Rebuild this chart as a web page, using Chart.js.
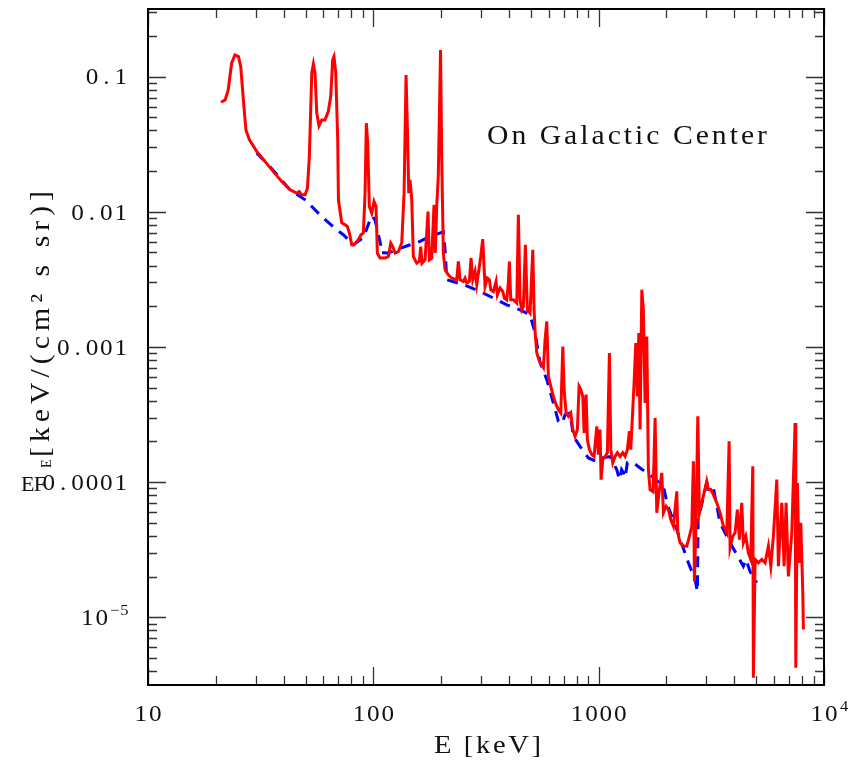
<!DOCTYPE html>
<html>
<head>
<meta charset="utf-8">
<script src="https://cdn.jsdelivr.net/npm/chart.js@4.4.0/dist/chart.umd.min.js"></script>
<style>
  body { margin: 0; background: #fff; }
  #wrap { width: 854px; height: 764px; }
</style>
</head>
<body>
<div id="wrap"><canvas id="spec" width="854" height="764"></canvas></div>
<script>
// total spectrum (red), E in keV and E*F_E in keV/(cm2 s sr)
const redE = [
  21.1, 22.0, 22.7, 23.5, 24.3, 25.2, 25.8, 26.5, 27.2, 28.2,
  30.4, 33.1, 36.0, 39.2, 42.7, 45.7, 46.9, 48.1, 49.8, 51.0,
  52.0, 53.3, 54.2, 55.1, 56.1, 57.4, 59.0, 61.0, 63.1, 64.7,
  66.0, 66.9, 68.1, 69.5, 70.0, 72.4, 74.9, 76.7, 78.3, 80.2,
  82.1, 85.8, 88.2, 90.3, 91.9, 93.1, 94.4, 96.0, 98.4, 100.7,
  102.8, 104.2, 107.1, 112.7, 116.6, 119.5, 121.9, 124.9, 129.1, 133.7,
  136.9, 139.7, 141.6, 143.6, 145.5, 148.1, 150.5, 155.8, 160.0, 162.3,
  164.5, 169.6, 174.9, 177.3, 181.6, 185.9, 188.4, 191.1, 194.3, 198.7,
  201.2, 204.5, 208.1, 215.2, 222.8, 234.5, 238.4, 242.6, 250.9, 255.3,
  259.8, 266.8, 271.4, 276.2, 282.8, 287.7, 295.5, 299.7, 305.9, 310.0,
  313.2, 320.6, 327.3, 332.0, 341.0, 350.5, 355.2, 365.1, 375.3, 381.5,
  390.9, 397.4, 401.4, 407.2, 418.2, 425.6, 433.1, 440.2, 447.9, 455.8,
  463.3, 472.9, 482.6, 496.1, 510.0, 516.9, 522.2, 531.4, 545.7, 568.5,
  578.4, 588.6, 598.3, 613.1, 629.6, 647.2, 662.6, 679.1, 693.2, 702.4,
  716.9, 733.9, 752.2, 767.5, 785.8, 804.6, 818.6, 833.0, 850.2, 861.6,
  879.4, 891.2, 909.5, 932.1, 954.1, 980.8, 997, 1014, 1025, 1043,
  1068, 1093, 1116, 1132, 1155, 1183, 1211, 1245, 1279, 1310,
  1341, 1369, 1388, 1417, 1436, 1461, 1485, 1507, 1527, 1554,
  1579, 1607, 1635, 1662, 1691, 1744, 1780, 1811, 1860, 1906,
  1938, 1992, 2039, 2089, 2146, 2222, 2245, 2298, 2377, 2461,
  2527, 2590, 2633, 2660, 2706, 2754, 2799, 2868, 2936, 3018,
  3068, 3144, 3228, 3343, 3458, 3577, 3704, 3792, 3831, 3938,
  4031, 4127, 4212, 4316, 4387, 4497, 4617, 4732, 4830, 4860,
  4946, 5115, 5296, 5478, 5665, 5806, 5962, 6173, 6275, 6497,
  6651, 6788, 6950, 7196, 7443, 7496, 7621, 7752, 7888, 8052,
  8102
];
const redF = [
  0.0646, 0.0672, 0.0796, 0.1255, 0.1445, 0.1404, 0.1185, 0.0672, 0.0403, 0.0340,
  0.0279, 0.0235, 0.0198, 0.01674, 0.01453, 0.01373, 0.01412, 0.01334, 0.01334, 0.01496,
  0.0256, 0.1059, 0.1240, 0.1059, 0.0536, 0.0432, 0.0478, 0.0478, 0.0551, 0.0711,
  0.1327, 0.1404, 0.1059, 0.0340, 0.01226, 0.00829, 0.00801, 0.00778, 0.00696, 0.00570,
  0.00570, 0.00621, 0.00676, 0.00696, 0.01373, 0.0452, 0.0322, 0.01093, 0.00977, 0.01191,
  0.01093, 0.00495, 0.00454, 0.00454, 0.00467, 0.00587, 0.00553, 0.00495, 0.00508, 0.00587,
  0.01373, 0.1028, 0.0427, 0.01373, 0.01722, 0.01226, 0.00467, 0.00417, 0.00429, 0.00553,
  0.00417, 0.00441, 0.01004, 0.00441, 0.00454, 0.01125, 0.00495, 0.01093, 0.01875, 0.1574,
  0.0242, 0.00495, 0.00372, 0.00342, 0.00323, 0.00314, 0.00429, 0.00314, 0.00305, 0.00323,
  0.00297, 0.00305, 0.00454, 0.00314, 0.00362, 0.00289, 0.00394, 0.00467, 0.00628, 0.00394,
  0.00280, 0.00323, 0.00314, 0.00265, 0.00257, 0.00305, 0.00243, 0.00273, 0.00257, 0.00230,
  0.00223, 0.00297, 0.00429, 0.00223, 0.00223, 0.00217, 0.00211, 0.00949, 0.00223, 0.00188,
  0.00199, 0.00570, 0.00188, 0.00178, 0.00523, 0.00188, 0.001302, 0.000902, 0.000782, 0.000703,
  0.001131, 0.001544, 0.000606, 0.000511, 0.000431, 0.000374, 0.000344, 0.000325, 0.001009, 0.000483,
  0.000325, 0.000307, 0.000325, 0.000245, 0.000218, 0.000245, 0.000511, 0.000483, 0.000431, 0.000231,
  0.000444, 0.000206, 0.000174, 0.000160, 0.000155, 0.000259, 0.000160, 0.000245, 0.0001044, 0.000147,
  0.000155, 0.000165, 0.000902, 0.000174, 0.000139, 0.000155, 0.000165, 0.000155, 0.000165, 0.000155,
  0.000174, 0.000238, 0.000174, 0.000344, 0.000541, 0.001069, 0.000431, 0.001268, 0.000245, 0.00265,
  0.00188, 0.000385, 0.001197, 0.0001238, 8.81e-5, 8.51e-5, 0.000298, 5.93e-5, 8.81e-5, 0.0001171,
  5.93e-5, 6.63e-5, 6.27e-5, 5.29e-5, 4.72e-5, 8.56e-5, 4.22e-5, 3.56e-5, 3.36e-5, 3.36e-5,
  3.98e-5, 4.72e-5, 0.0001426, 1.85e-5, 5.29e-5, 0.000307, 5.93e-5, 7.03e-5, 8.33e-5, 0.0001015,
  8.81e-5, 8.81e-5, 8.09e-5, 7.03e-5, 5.93e-5, 4.72e-5, 4.22e-5, 0.0002003, 3.27e-5, 3.98e-5,
  4.22e-5, 6.27e-5, 3.76e-5, 7.03e-5, 3.56e-5, 3.98e-5, 3.00e-5, 2.68e-5, 0.000131, 3.57e-6,
  2.68e-5, 2.53e-5, 2.68e-5, 2.53e-5, 3.36e-5, 2.39e-5, 3.98e-5, 0.0001044, 2.39e-5, 7.03e-5,
  2.39e-5, 7.03e-5, 2.01e-5, 4.22e-5, 0.000274, 4.24e-6, 9.87e-5, 2.53e-5, 5.00e-5, 1.52e-5,
  8.13e-6
];

// continuum (blue dashed)
const blueE = [
  30.4, 34.8, 42.7, 49.8, 59.0, 68.8, 73.6, 81.5, 90.3, 96.7,
  98.7, 101.7, 107.8, 108.2, 116.6, 127.0, 145.5, 161.2, 178.5, 204.5,
  208.1, 211.8, 250.9, 297.6, 341.0, 390.9, 447.9, 496.1, 522.2, 549.6,
  588.6, 629.6, 662.6, 688.2, 709.5, 746.5, 772.2, 826.9, 900.3, 980.8,
  1032, 1124, 1203, 1236, 1264, 1287, 1310, 1341, 1426, 1527,
  1720, 1938, 2018, 2222, 2502, 2679, 2742, 2762, 3018, 3228,
  3458, 3831, 4387, 4511, 4699, 5031
];
const blueF = [
  0.02714, 0.0215, 0.01453, 0.01226, 0.00922, 0.00736, 0.00676, 0.00570, 0.00642, 0.00872,
  0.00933, 0.00872, 0.00570, 0.00497, 0.00495, 0.00524, 0.00570, 0.00603, 0.00657, 0.00711,
  0.00524, 0.00314, 0.00289, 0.00257, 0.00230, 0.00205, 0.00188, 0.00173, 0.001268, 0.000765,
  0.000573, 0.000385, 0.000282, 0.000271, 0.000316, 0.000325, 0.000218, 0.000184, 0.000151, 0.0001419,
  0.000151, 0.0001545, 0.0001238, 0.0001044, 0.0001238, 0.0001177, 0.000108, 0.0001395, 0.000139, 0.0001274,
  0.0001104, 9.32e-5, 6.83e-5, 4.46e-5, 2.53e-5, 1.90e-5, 1.55e-5, 5.29e-5, 9.87e-5, 9.07e-5,
  5.00e-5, 3.56e-5, 2.39e-5, 2.68e-5, 2.18e-5, 1.80e-5
];

// axis ticks and labels
const xMajor = [10, 100, 1000, 10000];
const xLabels = [['10', ''], ['100', ''], ['1000', ''], ['10', '4']];
const yMajor = [0.1, 0.01, 0.001, 0.0001, 1e-5];
const yLabels = [['0.1', ''], ['0.01', ''], ['0.001', ''], ['0.0001', ''], ['10', '\u22125']];

const FONT = '"Liberation Serif", "DejaVu Serif", serif';

function minorTicks(lo, hi) {
  const out = [];
  for (let d = Math.floor(Math.log10(lo)); d <= Math.ceil(Math.log10(hi)); d++) {
    for (let m = 1; m <= 9; m++) {
      const v = m * Math.pow(10, d);
      if (v >= lo * 0.999 && v <= hi * 1.001) out.push({ v: v, major: m === 1 });
    }
  }
  return out;
}

// plotter-style numbers: every character in a cell of the same width
function drawCells(ctx, text, left, y, size, cell, sx) {
  ctx.font = size + 'px ' + FONT;
  ctx.textAlign = 'center';
  ctx.textBaseline = 'middle';
  Array.from(text).forEach((ch, i) => {
    ctx.save();
    ctx.translate(left + (i + 0.5) * cell, y);
    ctx.scale(sx, 1);
    ctx.fillText(ch, 0, 0);
    ctx.restore();
  });
}

// proportional text, slightly widened, spread out to a given width
function drawSpread(ctx, text, left, y, size, width, sx) {
  ctx.font = size + 'px ' + FONT;
  ctx.textAlign = 'left';
  ctx.textBaseline = 'middle';
  const chars = Array.from(text);
  const ws = chars.map(ch => ctx.measureText(ch).width * sx);
  const total = ws.reduce((s, w) => s + w, 0);
  const gap = chars.length > 1 ? (width - total) / (chars.length - 1) : 0;
  let x = left;
  chars.forEach((ch, i) => {
    ctx.save();
    ctx.translate(x, y);
    ctx.scale(sx, 1);
    ctx.fillText(ch, 0, 0);
    ctx.restore();
    x += ws[i] + gap;
  });
}

function drawLabel(ctx, base, sup, x, y, align) {
  const cell = 14.4, supCell = 9.5;
  const wb = Array.from(base).length * cell;
  const ws = sup ? Array.from(sup).length * supCell : 0;
  let left = x;
  if (align === 'right') left = x - wb - ws;
  if (align === 'center') left = x - wb / 2;
  drawCells(ctx, base, left, y, 22.5, cell, 1.12);
  if (sup) drawCells(ctx, sup, left + wb + 1, y - 8, 15, supCell, 1.1);
}

const axesPlugin = {
  id: 'axesPlugin',
  afterDraw(chart) {
    const ctx = chart.ctx;
    const xs = chart.scales.x, ys = chart.scales.y;
    const a = chart.chartArea;
    ctx.save();

    // tick marks, pointing inward on all four sides
    ctx.strokeStyle = '#333';
    ctx.lineWidth = 1.3;
    ctx.beginPath();
    minorTicks(xs.min, xs.max).forEach(t => {
      const px = Math.round(xs.getPixelForValue(t.v)) + 0.5;
      const len = t.major ? 18 : 9;
      ctx.moveTo(px, a.bottom); ctx.lineTo(px, a.bottom - len);
      ctx.moveTo(px, a.top); ctx.lineTo(px, a.top + len);
    });
    minorTicks(ys.min, ys.max).forEach(t => {
      const py = Math.round(ys.getPixelForValue(t.v)) + 0.5;
      const len = t.major ? 18 : 9;
      ctx.moveTo(a.left, py); ctx.lineTo(a.left + len, py);
      ctx.moveTo(a.right, py); ctx.lineTo(a.right - len, py);
    });
    ctx.stroke();

    // frame
    ctx.strokeStyle = '#000';
    ctx.lineWidth = 2;
    ctx.strokeRect(a.left, a.top, a.right - a.left, a.bottom - a.top);

    // tick labels
    ctx.fillStyle = '#111';
    xMajor.forEach((v, i) => {
      drawLabel(ctx, xLabels[i][0], xLabels[i][1], xs.getPixelForValue(v), a.bottom + 30, 'center');
    });
    yMajor.forEach((v, i) => {
      drawLabel(ctx, yLabels[i][0], yLabels[i][1], a.left - 20, ys.getPixelForValue(v) + 2, 'right');
    });

    // axis titles
    drawSpread(ctx, 'E [keV]', 434, 746, 26, 107, 1.1);

    ctx.save();
    ctx.translate(42, 457);
    ctx.rotate(-Math.PI / 2);
    drawSpread(ctx, '[keV/(cm\u00b2 s sr)]', 0, 0, 27, 266, 1.1);
    ctx.restore();

    drawSpread(ctx, 'EF', 21, 485, 22, 25, 1.0);
    ctx.save();
    ctx.translate(47, 468);
    ctx.rotate(-Math.PI / 2);
    drawSpread(ctx, 'E', 0, 0, 14, 9, 1.0);
    ctx.restore();

    // annotation
    drawSpread(ctx, 'On Galactic Center', 487, 137, 27, 280, 1.1);

    ctx.restore();
  }
};

new Chart(document.getElementById('spec'), {
  type: 'line',
  data: {
    datasets: [
      {
        label: 'total',
        data: redE.map((e, i) => ({ x: e, y: redF[i] })),
        borderColor: 'rgb(255, 0, 0)',
        borderWidth: 3,
        pointRadius: 0,
        tension: 0,
        fill: false
      },
      {
        label: 'continuum',
        data: blueE.map((e, i) => ({ x: e, y: blueF[i] })),
        borderColor: 'rgb(0, 0, 255)',
        borderWidth: 3,
        borderDash: [11, 8],
        pointRadius: 0,
        tension: 0,
        fill: false
      }
    ]
  },
  options: {
    responsive: false,
    animation: false,
    layout: { padding: { left: 148, right: 30, top: 9, bottom: 79 } },
    scales: {
      x: { type: 'logarithmic', min: 10, max: 10000, display: false },
      y: { type: 'logarithmic', min: 3.16e-6, max: 0.316, display: false }
    },
    plugins: {
      legend: { display: false },
      tooltip: { enabled: false }
    }
  },
  plugins: [axesPlugin]
});
</script>
</body>
</html>
